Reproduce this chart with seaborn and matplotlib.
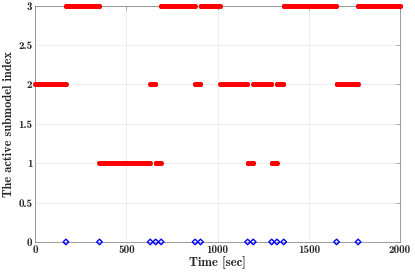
import numpy as np
import pandas as pd
import matplotlib
matplotlib.use("Agg")
import matplotlib.pyplot as plt
import seaborn as sns

# switching instants [sec] and the submodel that becomes active at each one
switch_times = [0, 168, 352, 630, 660, 690, 876, 906, 1014, 1164, 1195, 1296, 1325, 1362, 1652, 1770]
active_model = [2, 3, 1, 2, 1, 3, 2, 3, 2, 1, 2, 1, 2, 3, 2, 3]
t_end = 2000
sample_step = 2

# instants marked with blue diamonds on the time axis
marker_times = [168, 352, 630, 660, 690, 876, 906, 1164, 1195, 1296, 1325, 1362, 1652, 1770]

x_ticks = [0, 500, 1000, 1500, 2000]
y_ticks = [0, 0.5, 1, 1.5, 2, 2.5, 3]
y_tick_labels = ["0", "0.5", "1", "1.5", "2", "2.5", "3"]

# sampled signal: active index held between switches
t = np.arange(0, t_end + sample_step, sample_step)
idx = np.searchsorted(switch_times, t, side="right") - 1
df = pd.DataFrame({"time": t, "model": np.array(active_model)[idx]})
df_sw = pd.DataFrame({"time": marker_times, "model": [0] * len(marker_times)})

sns.set_style("white")
plt.rcParams["font.family"] = ["cmb10", "DejaVu Serif"]
plt.rcParams["axes.unicode_minus"] = False

fig = plt.figure(figsize=(4.15, 2.74), dpi=100)
ax = fig.add_axes([0.085, 0.117, 0.879, 0.862])

sns.scatterplot(data=df, x="time", y="model", ax=ax, color="#ff0000",
                s=13, linewidth=0, marker="o", clip_on=False, zorder=3)
sns.scatterplot(data=df_sw, x="time", y="model", ax=ax, marker="D",
                s=8, facecolor="none", edgecolor="#0000ff", linewidth=1.0,
                clip_on=False, zorder=4)

ax.set_xlim(0, 2000)
ax.set_ylim(0, 3)
ax.set_xticks(x_ticks)
ax.set_xticklabels([str(v) for v in x_ticks])
ax.set_yticks(y_ticks)
ax.set_yticklabels(y_tick_labels)
ax.grid(True, color="#e8e8e8", linewidth=0.5)
ax.set_axisbelow(True)

for s in ax.spines.values():
    s.set_visible(True)
    s.set_color("#8a8a8a")
    s.set_linewidth(0.6)
ax.tick_params(direction="in", length=3, width=0.5, color="#8a8a8a",
               labelsize=8, labelcolor="#262626", pad=2,
               top=True, right=True)

ax.set_xlabel("Time [sec]", fontsize=9.2, color="#262626", labelpad=1)
ax.set_ylabel("The active submodel index", fontsize=8.9, color="#262626", labelpad=2)

fig.savefig("out.png", dpi=100)
